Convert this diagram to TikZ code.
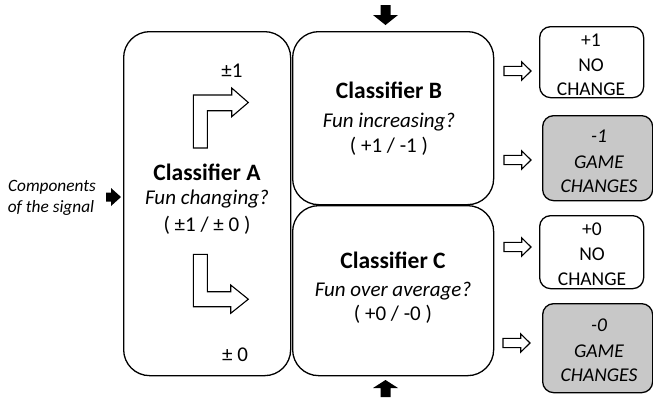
\documentclass[tikz,border=0pt]{standalone}
\usepackage{fontspec}
\setmainfont{Carlito}
\definecolor{boxgray}{RGB}{200,200,200}
\begin{document}
\begin{tikzpicture}[x=1pt,y=-1pt,
  bigbox/.style={draw,line width=1.3pt,rounded corners=26pt,inner sep=0pt,anchor=north west},
  outbox/.style={draw,line width=1.3pt,rounded corners=11pt,inner sep=0pt,anchor=north west},
  graybox/.style={outbox,fill=boxgray},
  title/.style={anchor=base,font=\fontsize{23.5}{28}\selectfont\bfseries},
  question/.style={anchor=base,font=\fontsize{21}{25}\selectfont\itshape},
  plain/.style={anchor=base,font=\fontsize{21}{25}\selectfont},
  outtext/.style={anchor=base,font=\fontsize{19.5}{23}\selectfont},
  outital/.style={anchor=base,font=\fontsize{19.5}{23}\selectfont\itshape},
  sidetext/.style={anchor=base,font=\fontsize{17.3}{20}\selectfont\itshape},
  bent/.style={draw,line width=1.1pt,fill=white,line join=miter},
  hollowarr/.pic={\draw[line width=1.1pt,fill=white,line join=miter] (0,-4.6) -- (17.7,-4.6) -- (17.7,-9.2) -- (27,0) -- (17.7,9.2) -- (17.7,4.6) -- (0,4.6) -- cycle;},
  downarr/.pic={\fill (-5,0) -- (5,0) -- (5,10) -- (12.5,10) -- (0,20) -- (-12.5,10) -- (-5,10) -- cycle;},
  uparr/.pic={\fill (-5,17) -- (5,17) -- (5,8) -- (12.5,8) -- (0,0) -- (-12.5,8) -- (-5,8) -- cycle;},
  rightarr/.pic={\fill (0,-4.5) -- (5,-4.5) -- (5,-9) -- (15,0) -- (5,9) -- (5,4.5) -- (0,4.5) -- cycle;}
]
\useasboundingbox (0,0) rectangle (653,400);

% main boxes
\node[bigbox,minimum width=167pt,minimum height=344pt] (A) at (123,31) {};
\node[bigbox,minimum width=201pt,minimum height=173pt] (B) at (292,31) {};
\node[bigbox,minimum width=201pt,minimum height=170pt] (C) at (292,205) {};

% output boxes
\node[outbox,minimum width=104pt,minimum height=71pt] (o1) at (539,26) {};
\node[graybox,minimum width=110pt,minimum height=85pt] (o2) at (542,115) {};
\node[outbox,minimum width=104pt,minimum height=73pt] (o3) at (539,215) {};
\node[graybox,minimum width=110pt,minimum height=89pt] (o4) at (542,303) {};

% hollow arrows
\pic (h1) at (504,71) {hollowarr};
\pic (h2) at (504,160) {hollowarr};
\pic (h3) at (504,247) {hollowarr};
\pic (h4) at (503,343) {hollowarr};

% black arrows
\pic (top) at (385.5,5) {downarr};
\pic (bot) at (385.5,380) {uparr};
\pic (left) at (106,197) {rightarr};

% bent arrows
\draw[bent] (193.3,148) -- (193.3,95) -- (231.7,95) -- (231.7,88) -- (248.3,102.5) -- (231.7,116.7) -- (231.7,110.7) -- (207.3,110.7) -- (207.3,148) -- cycle;
\draw[bent] (193.3,254.3) -- (207.3,254.3) -- (207.3,291.7) -- (230.7,291.7) -- (230.7,285) -- (248.3,299.2) -- (230.7,313.3) -- (230.7,306.7) -- (193.3,306.7) -- cycle;

% side text
\node[sidetext] (s1) at (52,191) {Components};
\node[sidetext] (s2) at (51,212) {of the signal};

% classifier A
\node[plain] (pa1) at (232,77) {±1};
\node[title] (ta) at (207,180) {Classifier A};
\node[question] (qa) at (207,204) {Fun changing?};
\node[plain] (va) at (207,231) {( ±1 / ± 0 )};
\node[plain] (pa0) at (235,361) {± 0};

% classifier B
\node[title] (tb) at (389,98) {Classifier B};
\node[question] (qb) at (389,127) {Fun increasing?};
\node[plain] (vb) at (389,152) {( +1 / -1 )};

% classifier C
\node[title] (tc) at (393,268) {Classifier C};
\node[question] (qc) at (393,296) {Fun over average?};
\node[plain] (vc) at (393,320) {( +0 / -0 )};

% outputs
\node[outtext] at (591,46) {+1};
\node[outtext] at (591,71) {NO};
\node[outtext] at (591,95) {CHANGE};
\node[outital] at (599,142) {-1};
\node[outital] at (599,168) {GAME};
\node[outital] at (599,192) {CHANGES};
\node[outtext] at (592,235) {+0};
\node[outtext] at (592,260) {NO};
\node[outtext] at (592,285) {CHANGE};
\node[outital] at (599,331) {-0};
\node[outital] at (599,357) {GAME};
\node[outital] at (599,381) {CHANGES};
\end{tikzpicture}
\end{document}
